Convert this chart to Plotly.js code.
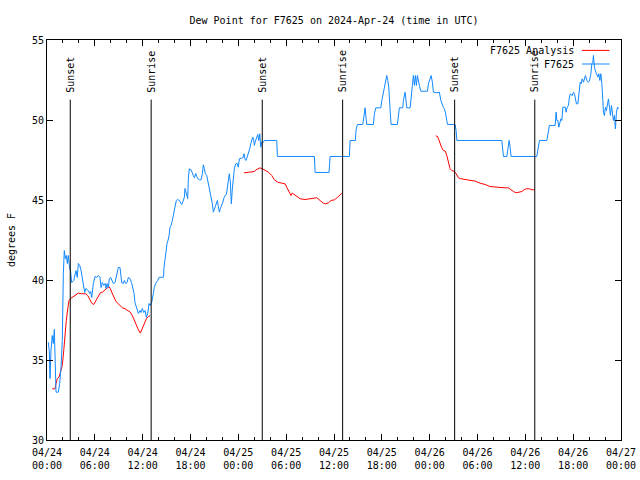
<!DOCTYPE html>
<html>
<head>
<meta charset="utf-8">
<script src="https://cdn.plot.ly/plotly-3.0.1.min.js"></script>
<style>html,body{margin:0;padding:0;background:#fff;}#chart{width:640px;height:480px;}</style>
</head>
<body>
<div id="chart"></div>
<script>
// Hours since 2024-04-24 00:00 UTC
const obsHours = [0.16,0.29,0.38,0.50,0.66,0.79,0.92,1.00,1.13,1.42,1.59,1.76,1.92,2.05,2.17,2.30,2.42,2.55,2.67,2.80,2.97,3.10,3.35,3.64,3.80,3.93,4.10,4.27,4.43,4.60,4.73,4.86,5.18,5.36,5.48,5.61,5.81,6.02,6.24,6.44,6.65,6.78,6.94,7.11,7.28,7.40,7.53,7.69,7.82,7.99,8.12,8.32,8.53,8.75,8.95,9.16,9.37,9.57,9.70,9.87,10.04,10.20,10.41,10.63,10.75,10.92,11.04,11.17,11.33,11.46,11.67,11.79,11.96,12.13,12.30,12.46,12.63,12.80,12.92,13.14,13.34,13.46,13.64,13.89,14.05,14.39,14.62,14.68,14.81,14.93,15.06,15.18,15.31,15.43,15.56,15.72,15.85,15.97,16.10,16.22,16.40,16.60,16.78,16.90,17.06,17.23,17.31,17.44,17.57,17.65,17.73,17.85,18.07,18.23,18.36,18.48,18.66,18.78,18.91,19.11,19.32,19.49,19.61,19.74,19.86,20.04,20.16,20.29,20.45,20.61,20.74,20.87,20.99,21.12,21.24,21.37,21.49,21.62,21.74,21.92,22.05,22.21,22.33,22.50,22.62,22.75,22.87,23.00,23.12,23.25,23.38,23.50,23.68,23.84,24.00,24.13,24.34,24.55,24.72,24.84,24.97,25.13,25.26,25.43,25.56,25.68,25.81,25.94,26.01,26.14,26.26,26.44,26.56,26.69,26.81,26.94,27.14,27.27,28.82,28.90,33.54,33.63,35.38,35.51,37.93,38.02,38.68,38.77,38.93,39.61,39.77,39.90,40.03,40.11,40.94,41.07,41.24,41.87,42.00,42.20,42.41,42.62,42.75,42.87,43.04,43.16,43.95,44.08,44.20,44.63,44.70,44.92,45.04,45.13,45.55,45.67,45.83,45.96,46.09,46.21,46.34,46.46,46.59,46.71,46.89,47.72,47.84,48.02,48.18,48.34,48.47,48.90,49.22,49.40,49.56,49.72,49.85,49.97,50.15,50.23,51.19,51.32,51.41,57.05,57.18,57.25,57.68,57.84,57.97,58.09,58.22,61.44,61.61,61.77,62.70,62.90,63.02,63.74,63.86,63.95,64.08,64.20,64.33,64.45,64.58,64.71,65.00,65.12,65.25,65.41,65.53,65.66,65.87,66.04,66.16,66.29,66.41,66.59,66.71,66.88,67.00,67.13,67.29,67.42,67.54,67.72,67.88,68.04,68.22,68.34,68.47,68.54,68.67,68.84,68.97,69.10,69.22,69.35,69.47,69.60,69.72,69.80,69.92,70.05,70.17,70.30,70.43,70.55,70.68,70.80,70.93,71.05,71.18,71.30,71.43,71.56,71.73];
const obsDew = [36.11,35.59,33.84,35.59,36.53,36.03,36.91,34.34,32.99,32.99,33.53,34.53,36.22,40.41,41.84,41.34,41.53,41.03,41.53,40.91,40.47,39.84,39.97,40.59,40.16,41.03,40.91,40.59,40.16,39.53,39.22,39.47,39.34,39.16,39.28,38.91,39.78,40.22,40.16,40.28,40.16,39.53,39.84,39.66,39.78,39.47,39.78,39.53,40.09,40.16,39.97,39.78,39.84,40.41,40.78,40.78,39.84,39.78,39.97,39.78,39.84,40.16,40.09,39.78,39.53,39.16,38.59,38.41,38.09,37.91,38.09,37.97,38.22,37.97,38.09,37.66,37.91,38.53,38.41,38.61,39.16,39.55,39.80,39.97,40.16,40.18,40.18,40.80,41.43,41.84,42.28,42.47,42.78,43.30,43.41,43.72,44.03,44.34,44.78,44.97,45.03,44.97,44.80,44.72,44.91,45.18,45.72,45.47,45.28,45.09,46.34,46.95,46.89,46.74,46.53,46.39,46.66,46.47,46.33,46.26,46.26,46.64,47.20,46.95,46.64,46.53,46.22,45.80,45.39,45.22,44.76,44.24,44.45,44.66,44.76,44.97,44.59,44.24,44.45,44.66,44.86,45.14,45.28,45.34,45.80,46.33,46.64,46.11,44.76,45.70,46.43,46.95,47.26,47.30,47.05,47.58,47.61,47.64,47.89,47.53,47.47,47.68,47.89,48.20,48.51,48.83,48.93,48.72,48.41,48.68,48.83,49.09,48.72,49.14,48.30,48.61,48.61,48.72,48.72,47.72,47.72,46.72,46.72,47.72,47.72,48.72,48.72,49.39,49.72,49.72,50.28,50.76,50.07,49.72,49.72,50.39,50.76,50.76,51.22,51.74,52.26,52.78,52.47,52.05,50.59,49.72,49.72,50.28,50.76,50.76,51.22,51.74,51.22,50.76,50.76,51.64,52.16,52.78,52.16,52.78,52.16,52.78,52.36,52.16,51.80,51.80,52.26,52.57,52.78,52.36,51.74,51.70,51.74,51.22,50.94,50.78,50.70,50.49,49.97,49.72,49.72,49.34,48.72,48.72,48.09,47.72,47.72,48.30,48.72,48.30,47.72,47.72,48.22,48.72,48.72,49.34,49.66,49.66,50.49,49.97,49.97,49.55,49.97,50.07,49.97,50.80,50.80,50.49,50.80,50.91,51.43,51.64,51.53,51.74,51.64,51.22,51.01,51.01,51.84,52.36,52.26,52.57,52.36,52.64,52.78,52.47,52.36,52.43,52.89,53.51,53.61,54.03,53.30,52.99,52.78,52.68,52.89,52.47,52.89,52.26,51.22,50.49,50.28,50.80,50.59,51.11,51.32,50.80,50.28,50.91,50.39,49.97,50.28,49.45,50.49,50.80,50.70];

const anaHours = [0.66,1.00,1.13,1.29,1.51,1.76,1.92,2.10,2.26,2.42,2.60,2.76,2.92,3.17,3.43,3.68,3.93,4.35,4.86,5.11,5.36,5.61,5.86,6.11,6.36,6.69,6.94,7.19,7.53,7.78,7.94,8.12,8.37,8.62,8.87,9.20,9.45,9.79,10.13,10.45,10.70,10.95,11.20,11.46,11.71,11.96,12.21,12.46,12.71,12.92,
  null,
  24.72,25.16,25.60,26.01,26.22,26.51,26.73,27.01,27.35,27.77,28.19,28.52,28.95,29.45,29.86,30.07,30.28,30.61,30.78,31.03,31.33,31.74,32.37,32.99,33.41,33.84,34.25,34.67,34.97,35.29,35.63,36.05,36.47,36.76,36.98,
  null,
  48.77,48.99,49.15,49.31,49.52,49.72,49.97,50.15,50.35,50.56,50.78,51.07,51.32,51.61,51.91,52.45,53.07,53.70,54.33,54.96,55.58,56.21,56.84,57.47,57.88,58.18,58.51,58.85,59.26,59.56,59.85,60.10,60.51,60.82,61.14];
const anaDew = [33.20,33.20,33.51,33.83,33.93,34.34,34.66,35.59,36.64,37.47,38.20,38.72,38.83,38.93,39.03,39.14,39.18,39.14,39.14,39.03,38.83,38.55,38.47,38.72,38.97,39.20,39.24,39.34,39.45,39.59,39.45,39.24,38.93,38.68,38.55,38.41,38.26,38.20,38.09,37.99,37.78,37.47,37.16,36.89,36.68,36.95,37.26,37.57,37.72,37.76,
  null,
  46.70,46.72,46.76,46.78,46.88,46.95,47.01,46.95,46.84,46.74,46.53,46.26,46.11,46.05,46.01,45.80,45.59,45.28,45.43,45.34,45.22,45.08,45.03,45.08,45.11,45.14,44.97,44.80,44.76,44.82,44.97,45.01,45.18,45.34,45.42,
  null,
  49.01,48.97,48.76,48.51,48.26,48.09,48.05,47.78,47.36,46.95,46.84,46.80,46.64,46.39,46.33,46.28,46.26,46.18,46.05,45.97,45.84,45.80,45.76,45.76,45.76,45.64,45.53,45.45,45.49,45.53,45.64,45.70,45.70,45.64,45.64];

const sunEvents = ["Sunset","Sunrise","Sunset","Sunrise","Sunset","Sunrise"];
const sunTimes = ["2024-04-24 02:55","2024-04-24 13:04","2024-04-25 03:00","2024-04-25 13:05","2024-04-26 03:08","2024-04-26 13:11"];

const seriesNames = ["F7625 Analysis","F7625"];
const yTicks = [30,35,40,45,50,55];

const START = Date.UTC(2024,3,24,0,0,0);
const toTime = h => (h === null ? null : START + h*3600000);

const FONT = "DejaVu Sans Mono, Liberation Mono, monospace";
const RED = "#ff0000", BLUE = "#1188ff";

const traces = [
  {x: anaHours.map(toTime), y: anaDew, type:"scatter", mode:"lines", name: seriesNames[0],
   line:{color:RED, width:1}, connectgaps:false, showlegend:false},
  {x: obsHours.map(toTime), y: obsDew, type:"scatter", mode:"lines", name: seriesNames[1],
   line:{color:BLUE, width:1}, showlegend:false}
];

const shapes = [];
const annotations = [];
sunTimes.forEach((t,i) => {
  shapes.push({type:"line", xref:"x", yref:"paper", x0:t, x1:t, y0:0, y1:0.851,
    line:{color:"#000", width:1}});
  annotations.push({xref:"x", yref:"paper", x:t, y:0.866, text:sunEvents[i], textangle:-90,
    showarrow:false, xanchor:"center", yanchor:"bottom", borderpad:0,
    font:{family:FONT, size:10, color:"#000"}});
});
// legend (gnuplot style: text then sample)
const legColors = [RED, BLUE];
const legY = [0.974, 0.940];
seriesNames.forEach((n,i) => {
  annotations.push({xref:"paper", yref:"paper", x:0.919, y:legY[i], text:n, showarrow:false,
    xanchor:"right", yanchor:"middle", borderpad:0, font:{family:FONT, size:10, color:"#000"}});
  shapes.push({type:"line", xref:"paper", yref:"paper", x0:0.932, x1:0.98, y0:legY[i], y1:legY[i],
    line:{color:legColors[i], width:1}});
});

const layout = {
  width:640, height:480,
  margin:{l:47, r:19, t:40, b:40, pad:0},
  paper_bgcolor:"#fff", plot_bgcolor:"#fff",
  font:{family:FONT, size:10, color:"#000"},
  title:{text:"Dew Point for F7625 on 2024-Apr-24 (time in UTC)", x:0.5, xref:"paper", y:0.958, yanchor:"middle",
    font:{family:FONT, size:10, color:"#000"}},
  xaxis:{type:"date", range:[START, START+72*3600000], tick0:START, dtick:6*3600000,
    tickformat:"%m/%d<br>%H:%M", ticks:"inside", ticklen:6, tickcolor:"#000", tickwidth:1,
    ticklabelstandoff:3,
    minor:{dtick:2*3600000, ticks:"inside", ticklen:3, tickcolor:"#000"},
    showline:true, linecolor:"#000", linewidth:1, mirror:"allticks", showgrid:false, zeroline:false,
    tickfont:{family:FONT, size:10, color:"#000"}, fixedrange:true},
  yaxis:{range:[30,55], tickvals:yTicks, ticktext:yTicks.map(String), ticks:"inside", ticklen:6,
    tickcolor:"#000", showline:true, linecolor:"#000", linewidth:1, mirror:"allticks",
    showgrid:false, zeroline:false, tickfont:{family:FONT, size:10, color:"#000"},
    title:{text:"degrees F", standoff:14, font:{family:FONT, size:10, color:"#000"}}, fixedrange:true},
  shapes: shapes,
  annotations: annotations,
  showlegend:false
};

Plotly.newPlot("chart", traces, layout, {displayModeBar:false, staticPlot:true});
</script>
</body>
</html>
